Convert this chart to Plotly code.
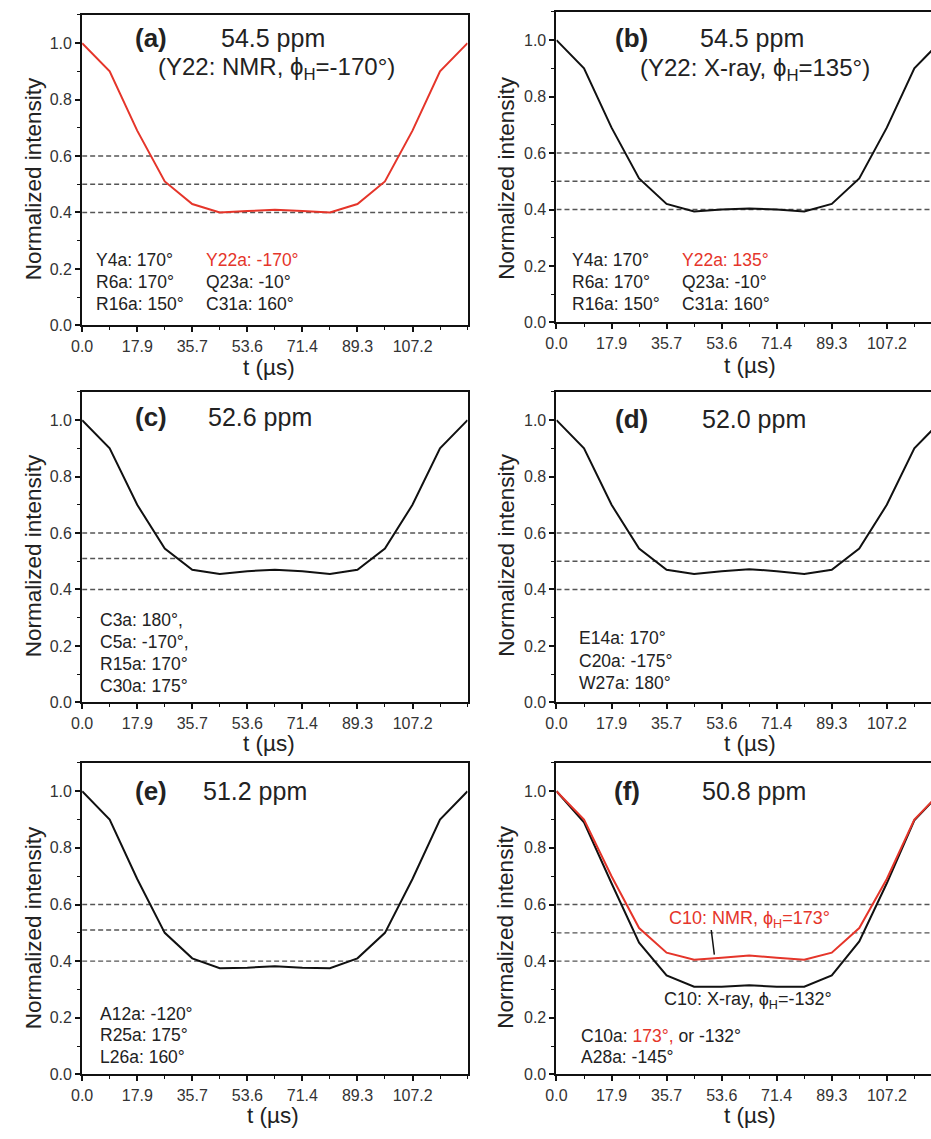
import plotly.graph_objects as go

W, H = 931, 1139

t_us = [0.0, 8.93, 17.86, 26.79, 35.71, 44.64, 53.57, 62.50, 71.43, 80.36, 89.29, 98.21, 107.14, 116.07, 125.0]
a_nmr = [1.0, 0.90, 0.69, 0.51, 0.43, 0.40, 0.405, 0.41, 0.405, 0.40, 0.43, 0.51, 0.69, 0.90, 1.0]
b_xray = [1.0, 0.90, 0.69, 0.51, 0.42, 0.393, 0.40, 0.404, 0.40, 0.393, 0.42, 0.51, 0.69, 0.90, 1.0]
c_vals = [1.0, 0.90, 0.70, 0.545, 0.47, 0.455, 0.465, 0.47, 0.465, 0.455, 0.47, 0.545, 0.70, 0.90, 1.0]
d_vals = [1.0, 0.90, 0.70, 0.545, 0.47, 0.455, 0.465, 0.472, 0.465, 0.455, 0.47, 0.545, 0.70, 0.90, 1.0]
e_vals = [1.0, 0.90, 0.69, 0.50, 0.41, 0.375, 0.377, 0.382, 0.377, 0.375, 0.41, 0.50, 0.69, 0.90, 1.0]
f_nmr = [1.0, 0.90, 0.70, 0.517, 0.43, 0.405, 0.412, 0.42, 0.412, 0.405, 0.43, 0.517, 0.69, 0.90, 1.0]
f_xray = [1.0, 0.89, 0.675, 0.465, 0.35, 0.31, 0.31, 0.315, 0.31, 0.31, 0.35, 0.47, 0.675, 0.897, 1.0]

ref_levels = {
    "a": [0.6, 0.5, 0.4], "b": [0.6, 0.5, 0.4], "c": [0.6, 0.51, 0.4],
    "d": [0.6, 0.5, 0.4], "e": [0.6, 0.51, 0.4], "f": [0.6, 0.5, 0.4],
}

x_tick_labels = ["0.0", "17.9", "35.7", "53.6", "71.4", "89.3", "107.2"]
y_tick_labels = ["0.0", "0.2", "0.4", "0.6", "0.8", "1.0"]

RED = "#e5352a"
FONT = "Liberation Sans, Arial, sans-serif"

# panel geometry in pixels: left, right, top, bottom
panels = {
    "a": (72, 462, 15, 328),
    "b": (552, 931, 12, 325),
    "c": (72, 462, 395, 708),
    "d": (552, 931, 395, 708),
    "e": (72, 462, 769, 1083),
    "f": (552, 931, 769, 1083),
}
order = ["a", "b", "c", "d", "e", "f"]

fig = go.Figure()
layout = {}

for i, key in enumerate(order):
    n = "" if i == 0 else str(i + 1)
    l, r, t, b = panels[key]
    right_col = key in ("b", "d", "f")
    xmax = 125.0 * (r - l) / 390.0
    layout["xaxis" + n] = dict(
        domain=[l / W, r / W], anchor="y" + n, range=[0, xmax],
        tickvals=[float(s) for s in x_tick_labels], ticktext=x_tick_labels,
        ticks="outside", ticklen=5, tickwidth=1.5, tickcolor="#111",
        minor=dict(ticks="outside", ticklen=3, tickwidth=1.2, tickcolor="#111", tick0=0, dtick=125 / 14),
        showline=True, linecolor="#111", linewidth=2, mirror=True,
        showgrid=False, zeroline=False,
        tickfont=dict(family=FONT, size=16, color="#333"),
    )
    layout["yaxis" + n] = dict(
        domain=[1 - b / H, 1 - t / H], anchor="x" + n, range=[0, 1.1],
        tickvals=[float(s) for s in y_tick_labels], ticktext=y_tick_labels,
        ticks="outside", ticklen=5, tickwidth=1.5, tickcolor="#111",
        minor=dict(ticks="outside", ticklen=3, tickwidth=1.2, tickcolor="#111", tick0=0, dtick=0.1),
        showline=True, linecolor="#111", linewidth=2, mirror=(not right_col),
        showgrid=False, zeroline=False,
        tickfont=dict(family=FONT, size=16, color="#333"),
    )
    for lev in ref_levels[key]:
        fig.add_trace(go.Scatter(x=[0, 125], y=[lev, lev], mode="lines",
                                 line=dict(color="#555", width=1.4, dash="5px,3px"),
                                 xaxis="x" + n, yaxis="y" + n, showlegend=False, hoverinfo="skip"))

series = [
    ("a", a_nmr, RED), ("b", b_xray, "#111"), ("c", c_vals, "#111"),
    ("d", d_vals, "#111"), ("e", e_vals, "#111"), ("f", f_xray, "#111"), ("f", f_nmr, RED),
]
for key, vals, col in series:
    i = order.index(key)
    n = "" if i == 0 else str(i + 1)
    fig.add_trace(go.Scatter(x=t_us, y=vals, mode="lines", line=dict(color=col, width=2),
                             xaxis="x" + n, yaxis="y" + n, showlegend=False))

ann = []


def add(text, x, y, size=17.5, color="#222", xanchor="center", bold=False, angle=0):
    if bold:
        text = "<b>" + text + "</b>"
    ann.append(dict(text=text, x=x / W, y=1 - y / H, xref="paper", yref="paper",
                    xanchor=xanchor, yanchor="middle", showarrow=False, textangle=angle,
                    borderpad=0,
                    font=dict(family=FONT, size=size, color=color)))


# axis titles
for cx, cy in [(23, 180), (23, 560), (23, 935)]:
    add("Normalized intensity", cx, cy, size=22.5, angle=-90)
for cx, cy in [(501, 180), (501, 560), (501, 935)]:
    add("Normalized intensity", cx, cy, size=22.5, angle=-90)
for cx, cy in [(261, 370), (748, 368), (261, 749), (748, 749), (265, 1124), (748, 1124)]:
    add("t (µs)", cx, cy, size=22.5)

# headers
add("(a)", 142, 38, size=26, bold=True)
add("54.5 ppm", 265, 38, size=25)
add("(Y22: NMR, ϕ<sub>H</sub>=-170°)", 269, 69, size=24)
add("(b)", 628, 38, size=26, bold=True)
add("54.5 ppm", 750, 38, size=25)
add("(Y22: X-ray, ϕ<sub>H</sub>=135°)", 753, 70, size=24)
add("(c)", 142, 420, size=26, bold=True)
add("52.6 ppm", 252, 420, size=25)
add("(d)", 628, 422, size=26, bold=True)
add("52.0 ppm", 752, 422, size=25)
add("(e)", 142, 797, size=26, bold=True)
add("51.2 ppm", 247, 797, size=25)
add("(f)", 623, 797, size=26, bold=True)
add("50.8 ppm", 752, 797, size=25)

# residue lists
for txt, y in [("Y4a: 170°", 262), ("R6a: 170°", 284), ("R16a: 150°", 306)]:
    add(txt, 85, y, xanchor="left")
add("Y22a: -170°", 196, 262, xanchor="left", color=RED)
for txt, y in [("Q23a: -10°", 284), ("C31a: 160°", 306)]:
    add(txt, 196, y, xanchor="left")

for txt, y in [("Y4a: 170°", 262), ("R6a: 170°", 284), ("R16a: 150°", 306)]:
    add(txt, 567, y, xanchor="left")
add("Y22a: 135°", 678, 262, xanchor="left", color=RED)
for txt, y in [("Q23a: -10°", 284), ("C31a: 160°", 306)]:
    add(txt, 678, y, xanchor="left")

for txt, y in [("C3a: 180°,", 625), ("C5a: -170°,", 647), ("R15a: 170°", 669), ("C30a: 175°", 691)]:
    add(txt, 89, y, xanchor="left")
for txt, y in [("E14a: 170°", 643), ("C20a: -175°", 666), ("W27a: 180°", 688)]:
    add(txt, 574, y, xanchor="left")
for txt, y in [("A12a: -120°", 1022), ("R25a: 175°", 1043), ("L26a: 160°", 1065)]:
    add(txt, 89, y, xanchor="left")
add("C10a: <span style='color:%s'>173°,</span> or -132°" % RED, 576, 1044, xanchor="left")
add("A28a: -145°", 576, 1065, xanchor="left")

add("C10: NMR, ϕ<sub>H</sub>=173°", 747, 927, size=18, color=RED)
add("C10: X-ray, ϕ<sub>H</sub>=-132°", 746, 1008, size=18)

layout["annotations"] = ann
layout["shapes"] = [dict(type="line", xref="x6", yref="y6", x0=50.2, y0=0.51, x1=51.2, y1=0.423,
                         line=dict(color="#111", width=1.5))]

fig.update_layout(**layout)
fig.update_layout(width=W, height=H, margin=dict(l=0, r=0, t=0, b=0),
                  paper_bgcolor="white", plot_bgcolor="white",
                  font=dict(family=FONT))

fig.write_html("out.html")
